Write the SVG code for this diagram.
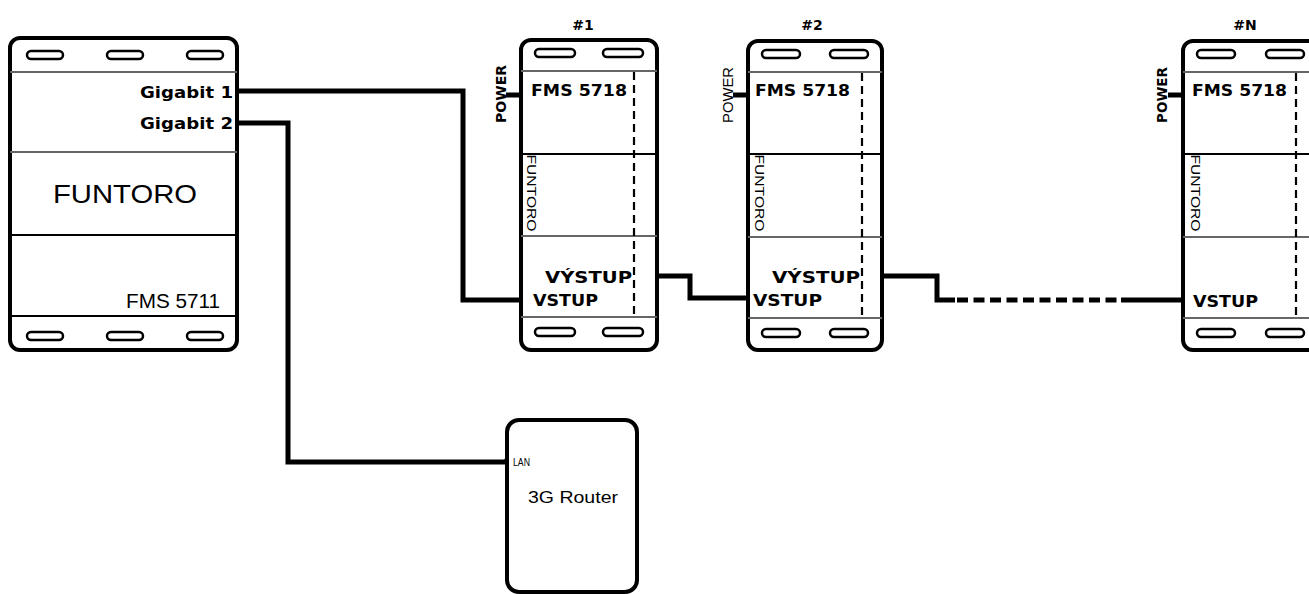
<svg xmlns="http://www.w3.org/2000/svg" width="1309" height="594" viewBox="0 0 1309 594">
<style>
.box{fill:#fff;stroke:#000;stroke-width:4}
.slot{fill:#fff;stroke:#000;stroke-width:2.5}
.divg{stroke:#666;stroke-width:2}
.divk{stroke:#000;stroke-width:2}
.dash{stroke:#000;stroke-width:2.2;stroke-dasharray:8 5;fill:none}
.wire{fill:none;stroke:#000;stroke-width:5}
.b{font-family:"DejaVu Sans","Liberation Sans",Arial,sans-serif;font-weight:bold;fill:#000}
.r{font-family:"Liberation Sans",Arial,sans-serif;fill:#000}
</style>
<rect width="1309" height="594" fill="#fff"/>
<g id="connectors">
<polyline class="wire" points="237,91 463,91 463,300 521,300"/>
<polyline class="wire" points="237,123 288,123 288,462 507,462"/>
<circle cx="507" cy="461" r="3"/>
<polyline class="wire" points="634,276 690,276 690,298 748,298"/>
<polyline class="wire" points="862,276 937,276 937,300 955,300"/>
<line class="wire" x1="957" y1="300" x2="1118" y2="300" stroke-dasharray="11 5.5"/>
<line class="wire" x1="1121" y1="300" x2="1183" y2="300"/>
<line class="wire" x1="506" y1="95" x2="521" y2="95"/>
<line class="wire" x1="733" y1="95" x2="748" y2="95"/>
<line class="wire" x1="1168" y1="95" x2="1183" y2="95"/>
</g>
<g id="fms5711">
<rect class="box" x="10" y="38" width="227" height="312" rx="10"/>
<line class="divg" x1="10" y1="72" x2="237" y2="72"/>
<line class="divg" x1="10" y1="152" x2="237" y2="152"/>
<line class="divk" x1="10" y1="235" x2="237" y2="235"/>
<line class="divk" x1="10" y1="316" x2="237" y2="316"/>
<rect class="slot" x="27" y="51" width="36" height="8" rx="4"/>
<rect class="slot" x="107" y="51" width="36" height="8" rx="4"/>
<rect class="slot" x="187" y="51" width="36" height="8" rx="4"/>
<rect class="slot" x="27" y="332" width="36" height="8" rx="4"/>
<rect class="slot" x="107" y="332" width="36" height="8" rx="4"/>
<rect class="slot" x="187" y="332" width="36" height="8" rx="4"/>
<text class="b" x="140" y="98" font-size="15" textLength="93" lengthAdjust="spacingAndGlyphs">Gigabit 1</text>
<text class="b" x="140" y="129" font-size="15" textLength="93" lengthAdjust="spacingAndGlyphs">Gigabit 2</text>
<text class="r" x="53" y="203" font-size="25" textLength="144" lengthAdjust="spacingAndGlyphs">FUNTORO</text>
<text class="r" x="126" y="308" font-size="20" textLength="94" lengthAdjust="spacingAndGlyphs">FMS 5711</text>
</g>
<g id="dev1">
<text class="b" x="583" y="30" font-size="14" text-anchor="middle">#1</text>
<rect class="box" x="521" y="40" width="136" height="310" rx="10"/>
<line class="divg" x1="521" y1="71" x2="657" y2="71"/>
<line class="divk" x1="521" y1="154" x2="657" y2="154"/>
<line class="divg" x1="521" y1="236" x2="657" y2="236"/>
<line class="divg" x1="521" y1="317" x2="657" y2="317"/>
<line class="dash" x1="634" y1="72" x2="634" y2="316"/>
<rect class="slot" x="535" y="49" width="40" height="8" rx="4"/>
<rect class="slot" x="603" y="49" width="40" height="8" rx="4"/>
<rect class="slot" x="535" y="328" width="40" height="8" rx="4"/>
<rect class="slot" x="603" y="328" width="40" height="8" rx="4"/>
<text class="b" x="506" y="94" font-size="14" text-anchor="middle" textLength="58" lengthAdjust="spacingAndGlyphs" transform="rotate(-90 506 94)">POWER</text>
<text class="b" x="531" y="96" font-size="16" textLength="96" lengthAdjust="spacingAndGlyphs">FMS  5718</text>
<text class="r" x="527" y="193" font-size="13" text-anchor="middle" textLength="77" lengthAdjust="spacingAndGlyphs" transform="rotate(90 527 193)">FUNTORO</text>
<text class="b" x="545" y="283" font-size="16" textLength="87" lengthAdjust="spacingAndGlyphs">VÝSTUP</text>
<text class="b" x="533" y="306" font-size="16" textLength="65" lengthAdjust="spacingAndGlyphs">VSTUP</text>
</g>
<g id="dev2">
<text class="b" x="812" y="30" font-size="14" text-anchor="middle">#2</text>
<rect class="box" x="748" y="41" width="134" height="309" rx="10"/>
<line class="divg" x1="748" y1="72" x2="882" y2="72"/>
<line class="divk" x1="748" y1="154" x2="882" y2="154"/>
<line class="divg" x1="748" y1="237" x2="882" y2="237"/>
<line class="divg" x1="748" y1="318" x2="882" y2="318"/>
<line class="dash" x1="862" y1="73" x2="862" y2="317"/>
<rect class="slot" x="762" y="50" width="38" height="8" rx="4"/>
<rect class="slot" x="830" y="50" width="38" height="8" rx="4"/>
<rect class="slot" x="762" y="329" width="38" height="8" rx="4"/>
<rect class="slot" x="830" y="329" width="38" height="8" rx="4"/>
<text class="r" x="733" y="95" font-size="15" text-anchor="middle" textLength="56" lengthAdjust="spacingAndGlyphs" transform="rotate(-90 733 95)">POWER</text>
<text class="b" x="755" y="96" font-size="16" textLength="95" lengthAdjust="spacingAndGlyphs">FMS  5718</text>
<text class="r" x="755" y="193" font-size="13" text-anchor="middle" textLength="77" lengthAdjust="spacingAndGlyphs" transform="rotate(90 755 193)">FUNTORO</text>
<text class="b" x="772" y="283" font-size="16" textLength="88" lengthAdjust="spacingAndGlyphs">VÝSTUP</text>
<text class="b" x="753" y="306" font-size="16" textLength="69" lengthAdjust="spacingAndGlyphs">VSTUP</text>
</g>
<g id="devN">
<text class="b" x="1245" y="30" font-size="14" text-anchor="middle">#N</text>
<rect class="box" x="1183" y="41" width="136" height="309" rx="10"/>
<line class="divg" x1="1183" y1="72" x2="1319" y2="72"/>
<line class="divk" x1="1183" y1="154" x2="1319" y2="154"/>
<line class="divg" x1="1183" y1="237" x2="1319" y2="237"/>
<line class="divg" x1="1183" y1="318" x2="1319" y2="318"/>
<line class="dash" x1="1296" y1="73" x2="1296" y2="317"/>
<rect class="slot" x="1197" y="50" width="38" height="8" rx="4"/>
<rect class="slot" x="1266" y="50" width="38" height="8" rx="4"/>
<rect class="slot" x="1197" y="329" width="38" height="8" rx="4"/>
<rect class="slot" x="1266" y="329" width="38" height="8" rx="4"/>
<text class="b" x="1167" y="95" font-size="14" text-anchor="middle" textLength="56" lengthAdjust="spacingAndGlyphs" transform="rotate(-90 1167 95)">POWER</text>
<text class="b" x="1192" y="96" font-size="16" textLength="95" lengthAdjust="spacingAndGlyphs">FMS  5718</text>
<text class="r" x="1191" y="193" font-size="13" text-anchor="middle" textLength="77" lengthAdjust="spacingAndGlyphs" transform="rotate(90 1191 193)">FUNTORO</text>
<text class="b" x="1193" y="307" font-size="16" textLength="65" lengthAdjust="spacingAndGlyphs">VSTUP</text>
</g>
<g id="router">
<rect class="box" x="507" y="420" width="130" height="172" rx="12"/>
<text class="r" x="513" y="466" font-size="11" textLength="17" lengthAdjust="spacingAndGlyphs">LAN</text>
<text class="r" x="528" y="503" font-size="17" textLength="90" lengthAdjust="spacingAndGlyphs">3G Router</text>
</g>
</svg>
